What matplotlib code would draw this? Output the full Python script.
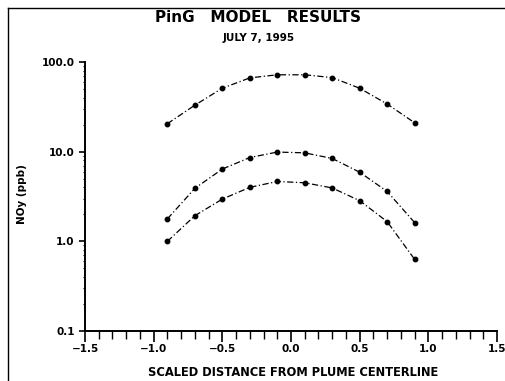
import numpy as np
import matplotlib
matplotlib.use("Agg")
import matplotlib.pyplot as plt
from matplotlib.ticker import FixedLocator, FuncFormatter, LogLocator, MultipleLocator
from matplotlib.lines import Line2D

# ── Data ───────────────────────────────────────────────────────────────────
distance = [-0.9, -0.7, -0.5, -0.3, -0.1, 0.1, 0.3, 0.5, 0.7, 0.9]
noy_high = [20.5, 33.0, 51.0, 66.5, 72.0, 72.0, 67.0, 51.0, 34.0, 21.0]
noy_mid = [1.78, 3.9, 6.4, 8.6, 9.9, 9.7, 8.4, 5.9, 3.6, 1.62]
noy_low = [1.0, 1.93, 2.96, 4.0, 4.65, 4.5, 3.94, 2.84, 1.66, 0.63]

y_ticks = [0.1, 1.0, 10.0, 100.0]
x_ticks = [-1.5, -1.0, -0.5, 0.0, 0.5, 1.0, 1.5]

plt.rcParams["font.family"] = ["DejaVu Sans"]

W, H = 505, 381

# ── Plot ───────────────────────────────────────────────────────────────────
fig = plt.figure(figsize=(W / 100, H / 100), dpi=100)
ax = fig.add_axes([85 / W, 1 - 331 / H, (497 - 85) / W, (331 - 62) / H])

for vals in (noy_high, noy_mid, noy_low):
    ax.plot(distance, vals, color="black", lw=0.9, ls=(0, (5, 2, 1, 2)),
            marker="o", ms=3.2)

ax.set_yscale("log")
ax.set_xlim(-1.5, 1.5)
ax.set_ylim(0.1, 100.0)

ax.xaxis.set_major_locator(FixedLocator(x_ticks))
ax.xaxis.set_minor_locator(MultipleLocator(0.1))
ax.xaxis.set_major_formatter(FuncFormatter(lambda v, p: f"{v:.1f}".replace("-", "\u2212")))
ax.yaxis.set_major_locator(FixedLocator(y_ticks))
ax.yaxis.set_minor_locator(LogLocator(base=10, subs=np.arange(2, 10)))
ax.yaxis.set_major_formatter(FuncFormatter(lambda v, p: f"{v:.1f}"))

ax.tick_params(axis="x", which="major", direction="out", length=8, width=1.2,
               labelsize=7.5, pad=1.5)
ax.tick_params(axis="x", which="minor", direction="out", length=5.5, width=1.0)
ax.tick_params(axis="y", which="major", direction="out", length=4.5, width=1.2,
               labelsize=7.5, pad=3)
ax.tick_params(axis="y", which="minor", direction="out", length=1.8, width=0.8)
for lab in ax.get_xticklabels() + ax.get_yticklabels():
    lab.set_fontweight("bold")

for side in ("top", "right"):
    ax.spines[side].set_visible(False)
for side in ("left", "bottom"):
    ax.spines[side].set_linewidth(1.4)

fig.text(0.5 * (140 + 446) / W, 1 - 373 / H, "SCALED DISTANCE FROM PLUME CENTERLINE",
         ha="center", va="center", fontsize=8.3, fontweight="bold")
fig.text(22 / W, 1 - 194 / H, "NOy (ppb)", rotation=90, ha="center", va="center",
         fontsize=7.5, fontweight="bold")

fig.text(258 / W, 1 - 18 / H, "PinG   MODEL   RESULTS", ha="center", va="center",
         fontsize=11, fontweight="bold")
fig.text(259 / W, 1 - 38 / H, "JULY 7, 1995", ha="center", va="center",
         fontsize=7.5, fontweight="bold")

# page frame from the scan
fig.add_artist(Line2D([8 / W, 8 / W], [0, 1 - 8 / H], color="black",
                      lw=1.0, transform=fig.transFigure))
fig.add_artist(Line2D([8 / W, 1], [1 - 8 / H, 1 - 8 / H], color="black",
                      lw=1.0, transform=fig.transFigure))

plt.savefig("out.png", dpi=100)
